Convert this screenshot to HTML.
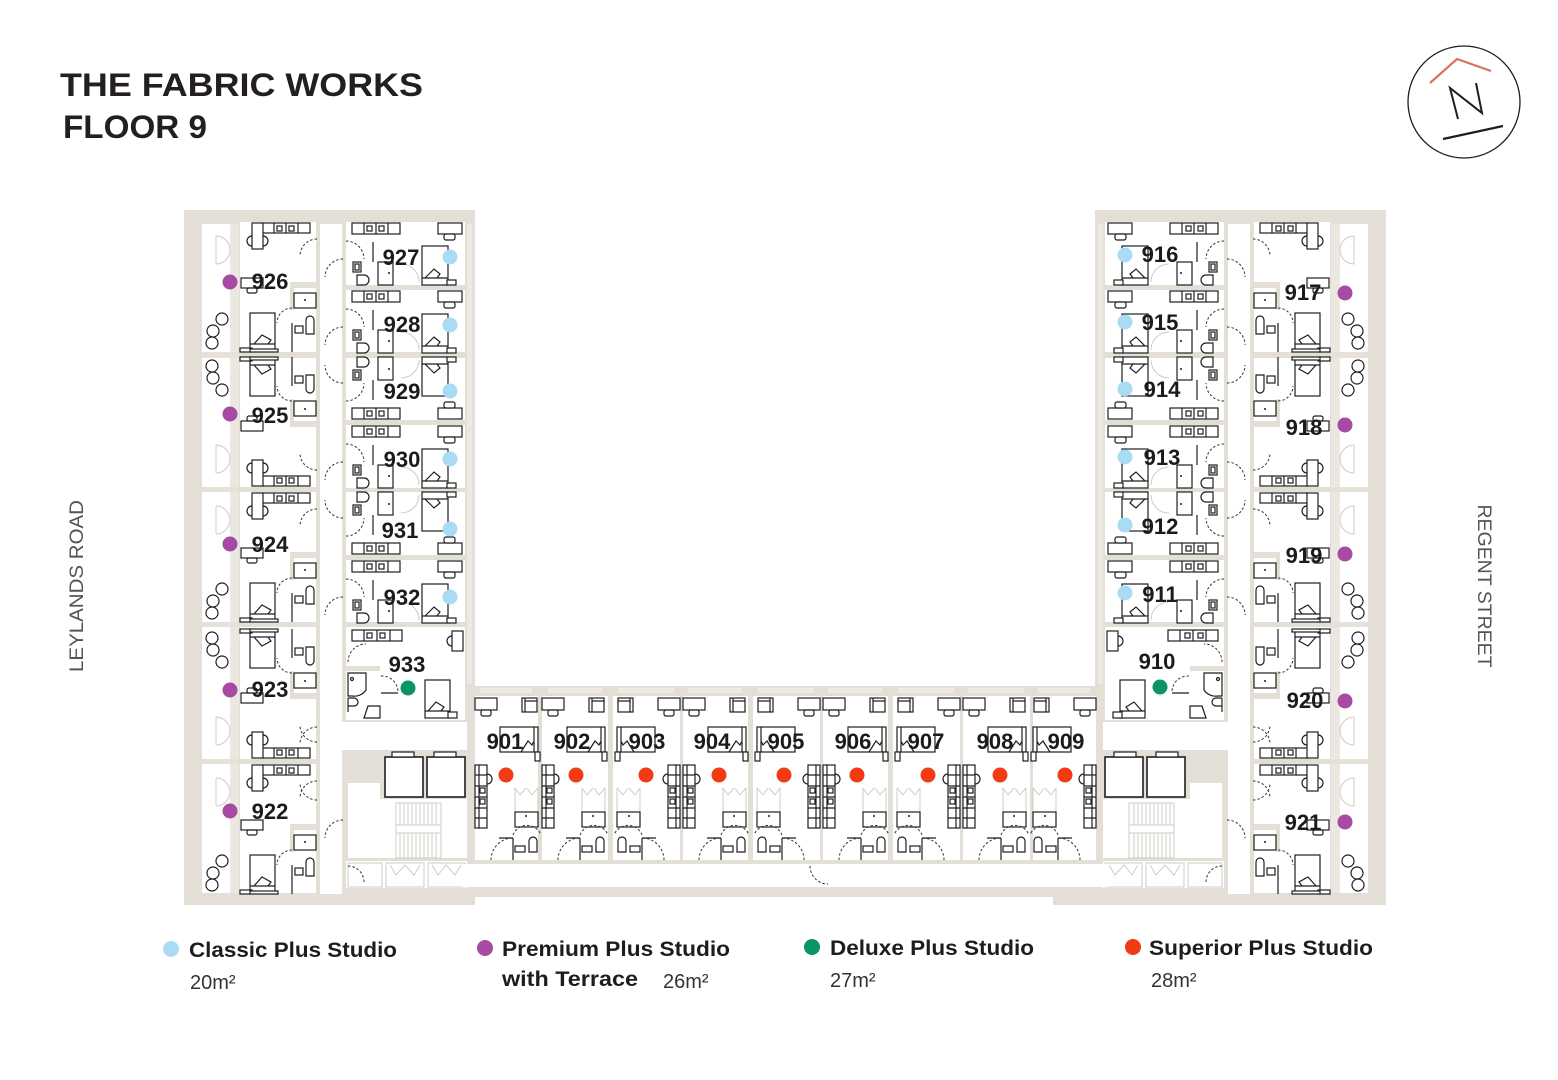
<!DOCTYPE html>
<html><head><meta charset="utf-8">
<style>
html,body{margin:0;padding:0;background:#fff;}
svg{display:block;}
.f{fill:#fff;stroke:#1e1e1e;stroke-width:1.2}
.k{fill:none;stroke:#1e1e1e;stroke-width:1.2}
.d{fill:none;stroke:#333;stroke-width:1;stroke-dasharray:2.5 2}
.l{fill:none;stroke:#cfccc5;stroke-width:1}
.w{fill:#fff}
.b{fill:#e3dfd6}
.n{font-family:"Liberation Sans",sans-serif;font-weight:bold;font-size:22px;fill:#1b1b1b;text-anchor:middle}
.lg{font-family:"Liberation Sans",sans-serif;font-weight:bold;font-size:21px;fill:#1f1c1d}
.ar{font-family:"Liberation Sans",sans-serif;font-size:20px;fill:#333}
</style></head><body>
<svg width="1558" height="1080" viewBox="0 0 1558 1080" xmlns="http://www.w3.org/2000/svg">
<defs>
<g id="prem">
<path class="l" d="M14 14 A14 14 0 0 1 28 28 M14 42 A14 14 0 0 0 28 28 M14 14 V42"/>
<circle class="f" cx="20" cy="97" r="6"/>
<circle class="f" cx="11" cy="109" r="6"/>
<circle class="f" cx="10" cy="121" r="6"/>
<rect class="f" x="60" y="1" width="48" height="10"/>
<path class="k" d="M72 1V11M84 1V11M96 1V11"/>
<rect class="f" x="75" y="4" width="5" height="5"/>
<rect class="f" x="87" y="4" width="5" height="5"/>
<rect class="f" x="50" y="1" width="11" height="26"/>
<path class="k" d="M50 14 A5 5 0 0 0 50 24 M61 14 A5 5 0 0 1 61 24"/>
<path class="d" d="M115 17 A17 17 0 0 0 98 34"/>
<rect class="f" x="39" y="56" width="22" height="10"/>
<rect class="f" x="45" y="66" width="10" height="5" rx="2"/>
<rect class="b" x="88" y="60" width="28" height="6"/>
<rect class="b" x="88" y="60" width="4" height="28"/>
<rect class="f" x="92" y="71" width="22" height="15"/>
<circle cx="103" cy="78" r="1" fill="#1e1e1e"/>
<path class="d" d="M90 86 A15 15 0 0 0 75 101"/>
<path class="k" d="M90 101 V130"/>
<rect class="f" x="93" y="104" width="8" height="7"/>
<path class="f" d="M104 112 V98 A4 4 0 0 1 112 98 V112 Z"/>
<rect class="f" x="48" y="91" width="25" height="38"/>
<path class="k" d="M48 122 H73 M52 122 L60 113 L69 118 L66 122"/>
<rect class="f" x="38" y="126" width="12" height="4"/>
<rect class="f" x="48" y="127" width="28" height="3"/>
</g>
<g id="cls">
<rect class="f" x="7" y="1" width="48" height="11"/>
<path class="k" d="M19 1V12M31 1V12M43 1V12"/>
<rect class="f" x="22" y="4" width="5" height="5"/>
<rect class="f" x="34" y="4" width="5" height="5"/>
<rect class="f" x="93" y="1" width="24" height="11"/>
<rect class="f" x="99" y="12" width="11" height="6" rx="2"/>
<path class="d" d="M1 19 A18 18 0 0 1 19 37"/>
<path class="d" d="M-2 37 A18 18 0 0 0 -20 55"/>
<rect class="f" x="8" y="40" width="8" height="10"/>
<rect class="f" x="10" y="42" width="4" height="6"/>
<path class="f" d="M12 53 H19 A5 5 0 0 1 19 63 H12 Z"/>
<rect class="f" x="33" y="40" width="15" height="23"/>
<circle cx="44" cy="51" r="1" fill="#1e1e1e"/>
<path class="k" d="M28 20 V40"/>
<path class="l" d="M56 42 A18 18 0 0 1 74 60"/>
<rect class="f" x="77" y="24" width="26" height="39"/>
<path class="k" d="M77 56 H103 M80 56 L89 47 L95 52 L92 56"/>
<rect class="f" x="102" y="58" width="9" height="5"/>
</g>
<g id="sup">
<rect class="f" x="0" y="3" width="22" height="12"/>
<rect class="f" x="6" y="15" width="10" height="6" rx="2"/>
<rect class="f" x="47" y="3" width="15" height="14"/>
<path class="k" d="M50 3 V17 M50 6 H62"/>
<rect class="f" x="25" y="32" width="38" height="25"/>
<path class="k" d="M59 32 V57 M46 57 L53 46 L57 50 L59 46"/>
<rect class="f" x="60" y="57" width="5" height="9"/>
<rect class="f" x="0" y="70" width="12" height="63"/>
<path class="k" d="M0 80 H12 M0 91 H12 M0 102 H12 M0 113 H12 M0 123 H12 M4 70 V133"/>
<rect class="f" x="5" y="93" width="5" height="5"/>
<rect class="f" x="5" y="104" width="5" height="5"/>
<path class="k" d="M12 79 A5 5 0 0 1 12 89"/>
<path class="l" d="M40 93 L45 100 L51 93 M52 93 L57 100 L63 93 M40 93 V117 M63 93 V117"/>
<rect class="f" x="40" y="117" width="23" height="15"/>
<circle cx="51" cy="121" r="1" fill="#1e1e1e"/>
<path class="d" d="M16 165 A22 22 0 0 1 38 143"/>
<path class="d" d="M38 140 A15 15 0 0 1 66 140"/>
<path class="k" d="M38 143 V165 M24 143 H38"/>
<path class="f" d="M54 157 V146 A4 4 0 0 1 62 146 V157 Z"/>
<rect class="f" x="40" y="151" width="10" height="6"/>
</g>
<g id="lw">
<rect class="b" x="184" y="210" width="291" height="695"/>
<rect class="w" x="202" y="224" width="28" height="669"/>
<rect x="230" y="224" width="9" height="669" fill="#ebe8e1"/>
<rect x="467" y="224" width="5" height="460" fill="#ece9e2"/>
<rect x="202" y="352" width="37" height="6" fill="#e6e2da"/>
<rect x="202" y="487" width="37" height="5" fill="#e6e2da"/>
<rect x="202" y="622" width="37" height="5" fill="#e6e2da"/>
<rect x="202" y="759" width="37" height="5" fill="#e6e2da"/>
<rect class="w" x="240" y="222" width="76" height="130"/>
<rect class="w" x="240" y="358" width="76" height="129"/>
<rect class="w" x="240" y="492" width="76" height="130"/>
<rect class="w" x="240" y="627" width="76" height="132"/>
<rect class="w" x="240" y="764" width="76" height="129"/>
<rect class="w" x="320" y="224" width="22" height="670"/>
<rect class="w" x="346" y="222" width="119" height="63"/>
<rect class="w" x="346" y="290" width="119" height="62"/>
<rect class="w" x="346" y="358" width="119" height="62"/>
<rect class="w" x="346" y="425" width="119" height="63"/>
<rect class="w" x="346" y="492" width="119" height="63"/>
<rect class="w" x="346" y="560" width="119" height="62"/>
<rect class="w" x="346" y="627" width="119" height="93"/>
<rect class="w" x="320" y="722" width="147" height="28"/>
<rect class="w" x="348" y="783" width="32" height="75"/>
<rect class="w" x="380" y="799" width="87" height="59"/>
<rect class="w" x="346" y="861" width="121" height="27"/>
<use href="#prem" transform="translate(202,222)"/>
<use href="#prem" transform="translate(202,487) scale(1,-1)"/>
<use href="#prem" transform="translate(202,492)"/>
<use href="#prem" transform="translate(202,759) scale(1,-1)"/>
<use href="#prem" transform="translate(202,764)"/>
<use href="#cls" transform="translate(345,222)"/>
<use href="#cls" transform="translate(345,290)"/>
<use href="#cls" transform="translate(345,420) scale(1,-1)"/>
<use href="#cls" transform="translate(345,425)"/>
<use href="#cls" transform="translate(345,555) scale(1,-1)"/>
<use href="#cls" transform="translate(345,560)"/>
<!-- room 933 -->
<rect class="f" x="352" y="630" width="50" height="11"/>
<path class="k" d="M364 630V641M377 630V641M390 630V641"/>
<rect class="f" x="367" y="633" width="5" height="5"/>
<rect class="f" x="380" y="633" width="5" height="5"/>
<rect class="f" x="452" y="631" width="11" height="20"/>
<path class="k" d="M452 636 A5 5 0 0 0 452 646"/>
<path class="d" d="M348 662 A18 18 0 0 1 366 644"/>
<rect class="b" x="346" y="666" width="34" height="5"/>
<path class="f" d="M348 673 H366 V690 A14 14 0 0 1 352 696 H348 Z"/>
<circle class="k" cx="352" cy="679" r="1.5"/>
<path class="k" d="M348 698 V712 M348 698 H354 A4 4 0 0 1 354 706 H348"/>
<path class="f" d="M364 718 L368 706 H380 V718 Z"/>
<path class="d" d="M381 676 A16 16 0 0 1 398 692"/>
<path class="k" d="M381 693 H398"/>
<rect class="f" x="425" y="680" width="25" height="38"/>
<path class="k" d="M425 711 H450 M428 711 L436 702 L444 707 L441 711"/>
<rect class="f" x="448" y="712" width="9" height="6"/>
<!-- corridor doors -->
<path class="d" d="M317 727 A17 17 0 0 0 300 744"/>
<path class="d" d="M317 800 A17 17 0 0 1 300 783"/>
<path class="d" d="M343 820 A18 18 0 0 0 325 838"/>
<!-- lifts -->
<rect class="f" x="385" y="757" width="38" height="40" style="stroke-width:1.6"/>
<rect class="f" x="427" y="757" width="38" height="40" style="stroke-width:1.6"/>
<rect class="f" x="392" y="752" width="22" height="5"/>
<rect class="f" x="434" y="752" width="22" height="5"/>
<!-- stairs -->
<path class="l" d="M396 803 H441 V858 H396 Z M396 825 H441 M396 833 H441 M400 803V825M404 803V825M408 803V825M412 803V825M416 803V825M420 803V825M424 803V825M428 803V825M432 803V825M436 803V825 M400 833V858M404 833V858M408 833V858M412 833V858M416 833V858M420 833V858M424 833V858M428 833V858M432 833V858M436 833V858"/>
<!-- cupboards -->
<path class="l" d="M348 863 H382 V887 H348 Z M386 863 H424 V887 H386 Z M428 863 H465 V887 H428 Z M390 865 L396 875 L405 865 L414 875 L420 865 M432 865 L438 875 L446 865 L455 875 L461 865"/>
<path class="d" d="M348 866 A16 16 0 0 1 364 882"/>
</g>
</defs>

<!-- bottom wing beige -->
<rect class="b" x="465" y="686" width="641" height="211"/>
<rect class="b" x="1053" y="890" width="50" height="15"/>
<use href="#lw"/>
<use href="#lw" transform="matrix(-1 0 0 1 1570 0)"/>
<!-- bottom wing rooms -->
<rect class="w" x="475" y="696" width="63" height="164"/>
<rect class="w" x="542" y="696" width="66" height="164"/>
<rect class="w" x="613" y="696" width="67" height="164"/>
<rect class="w" x="683" y="696" width="65" height="164"/>
<rect class="w" x="753" y="696" width="67" height="164"/>
<rect class="w" x="823" y="696" width="65" height="164"/>
<rect class="w" x="893" y="696" width="67" height="164"/>
<rect class="w" x="963" y="696" width="67" height="164"/>
<rect class="w" x="1033" y="696" width="63" height="164"/>
<rect class="w" x="462" y="864" width="646" height="23"/>
<g fill="#eeebe5">
<rect x="480" y="688" width="52" height="5"/><rect x="548" y="688" width="54" height="5"/><rect x="618" y="688" width="56" height="5"/>
<rect x="688" y="688" width="54" height="5"/><rect x="758" y="688" width="56" height="5"/><rect x="828" y="688" width="54" height="5"/>
<rect x="898" y="688" width="56" height="5"/><rect x="968" y="688" width="56" height="5"/><rect x="1038" y="688" width="52" height="5"/>
</g>
<use href="#sup" transform="translate(475,695)"/>
<use href="#sup" transform="translate(542,695)"/>
<use href="#sup" transform="translate(680,695) scale(-1,1)"/>
<use href="#sup" transform="translate(683,695)"/>
<use href="#sup" transform="translate(820,695) scale(-1,1)"/>
<use href="#sup" transform="translate(823,695)"/>
<use href="#sup" transform="translate(960,695) scale(-1,1)"/>
<use href="#sup" transform="translate(963,695)"/>
<use href="#sup" transform="translate(1096,695) scale(-1,1)"/>
<path class="d" d="M810 866 A18 18 0 0 0 828 884"/>

<!-- dots -->
<g fill="#a64aa3">
<circle cx="230" cy="282" r="7.5"/><circle cx="230" cy="414" r="7.5"/><circle cx="230" cy="544" r="7.5"/><circle cx="230" cy="690" r="7.5"/><circle cx="230" cy="811" r="7.5"/>
<circle cx="1345" cy="293" r="7.5"/><circle cx="1345" cy="425" r="7.5"/><circle cx="1345" cy="554" r="7.5"/><circle cx="1345" cy="701" r="7.5"/><circle cx="1345" cy="822" r="7.5"/>
</g>
<g fill="#a9dcf4">
<circle cx="450" cy="257" r="7.5"/><circle cx="450" cy="325" r="7.5"/><circle cx="450" cy="391" r="7.5"/><circle cx="450" cy="459" r="7.5"/><circle cx="450" cy="529" r="7.5"/><circle cx="450" cy="597" r="7.5"/>
<circle cx="1125" cy="255" r="7.5"/><circle cx="1125" cy="322" r="7.5"/><circle cx="1125" cy="389" r="7.5"/><circle cx="1125" cy="457" r="7.5"/><circle cx="1125" cy="525" r="7.5"/><circle cx="1125" cy="593" r="7.5"/>
</g>
<g fill="#0b9563"><circle cx="408" cy="688" r="7.5"/><circle cx="1160" cy="687" r="7.5"/></g>
<g fill="#f23b12">
<circle cx="506" cy="775" r="7.5"/><circle cx="576" cy="775" r="7.5"/><circle cx="646" cy="775" r="7.5"/><circle cx="719" cy="775" r="7.5"/><circle cx="784" cy="775" r="7.5"/><circle cx="857" cy="775" r="7.5"/><circle cx="928" cy="775" r="7.5"/><circle cx="1000" cy="775" r="7.5"/><circle cx="1065" cy="775" r="7.5"/>
</g>

<!-- room numbers -->
<g class="n">
<text x="270" y="289">926</text><text x="270" y="423">925</text><text x="270" y="552">924</text><text x="270" y="697">923</text><text x="270" y="819">922</text>
<text x="401" y="265">927</text><text x="402" y="332">928</text><text x="402" y="399">929</text><text x="402" y="467">930</text><text x="400" y="538">931</text><text x="402" y="605">932</text><text x="407" y="672">933</text>
<text x="505" y="749">901</text><text x="572" y="749">902</text><text x="647" y="749">903</text><text x="712" y="749">904</text><text x="786" y="749">905</text><text x="853" y="749">906</text><text x="926" y="749">907</text><text x="995" y="749">908</text><text x="1066" y="749">909</text>
<text x="1157" y="669">910</text><text x="1160" y="602">911</text><text x="1160" y="534">912</text><text x="1162" y="465">913</text><text x="1162" y="397">914</text><text x="1160" y="330">915</text><text x="1160" y="262">916</text>
<text x="1303" y="300">917</text><text x="1304" y="435">918</text><text x="1304" y="563">919</text><text x="1305" y="708">920</text><text x="1303" y="830">921</text>
</g>

<!-- title -->
<text x="60" y="96" font-family="Liberation Sans, sans-serif" font-weight="bold" font-size="32" fill="#231f20" textLength="363" lengthAdjust="spacingAndGlyphs">THE FABRIC WORKS</text>
<text x="63" y="138" font-family="Liberation Sans, sans-serif" font-weight="bold" font-size="32" fill="#231f20" textLength="144" lengthAdjust="spacingAndGlyphs">FLOOR 9</text>

<!-- logo -->
<circle cx="1464" cy="102" r="56" fill="none" stroke="#1e1e1e" stroke-width="1.3"/>
<polyline points="1430,83 1457,59 1491,71" fill="none" stroke="#d9735c" stroke-width="2.2"/>
<polyline points="1458,119 1450,88 1482,113 1476,83" fill="none" stroke="#1e1e1e" stroke-width="2"/>
<line x1="1443" y1="139" x2="1503" y2="126" stroke="#1e1e1e" stroke-width="2.2"/>

<!-- street labels -->
<text transform="translate(83,586) rotate(-90)" text-anchor="middle" font-family="Liberation Sans, sans-serif" font-size="19" fill="#555" textLength="172" lengthAdjust="spacingAndGlyphs">LEYLANDS ROAD</text>
<text transform="translate(1478,586) rotate(90)" text-anchor="middle" font-family="Liberation Sans, sans-serif" font-size="19" fill="#555" textLength="163" lengthAdjust="spacingAndGlyphs">REGENT STREET</text>

<!-- legend -->
<circle cx="171" cy="949" r="8" fill="#a9dcf4"/>
<text class="lg" x="189" y="957" textLength="208" lengthAdjust="spacingAndGlyphs">Classic Plus Studio</text>
<text class="ar" x="190" y="989">20m²</text>
<circle cx="485" cy="948" r="8" fill="#a64aa3"/>
<text class="lg" x="502" y="956" textLength="228" lengthAdjust="spacingAndGlyphs">Premium Plus Studio</text>
<text class="lg" x="502" y="986" textLength="136" lengthAdjust="spacingAndGlyphs">with Terrace</text>
<text class="ar" x="663" y="988">26m²</text>
<circle cx="812" cy="947" r="8" fill="#0b9563"/>
<text class="lg" x="830" y="955" textLength="204" lengthAdjust="spacingAndGlyphs">Deluxe Plus Studio</text>
<text class="ar" x="830" y="987">27m²</text>
<circle cx="1133" cy="947" r="8" fill="#f23b12"/>
<text class="lg" x="1149" y="955" textLength="224" lengthAdjust="spacingAndGlyphs">Superior Plus Studio</text>
<text class="ar" x="1151" y="987">28m²</text>
</svg>
</body></html>
